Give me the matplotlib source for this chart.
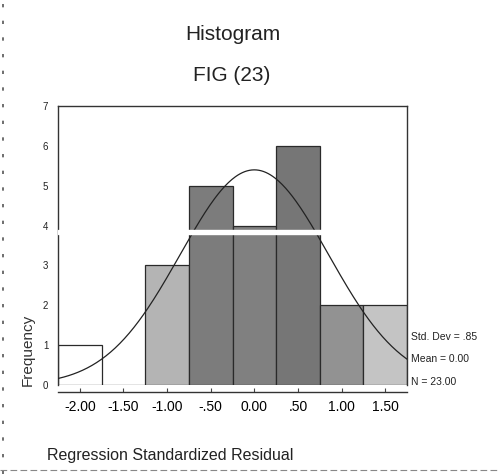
import numpy as np
import matplotlib
matplotlib.use("Agg")
import matplotlib.pyplot as plt

# histogram of regression standardized residuals (SPSS style)
bin_centers = [-2.0, -1.5, -1.0, -0.5, 0.0, 0.5, 1.0, 1.5]
counts = [1, 0, 3, 5, 4, 6, 2, 2]
tick_labels = ["-2.00", "-1.50", "-1.00", "-.50", "0.00", ".50", "1.00", "1.50"]
bar_shades = ["#ffffff", "#ffffff", "#b4b4b4", "#7c7c7c", "#808080", "#767676", "#929292", "#c4c4c4"]

std_dev = 0.85
mean = 0.0
n = 23
bin_width = 0.5

plt.rcParams['font.family'] = ['Liberation Sans', 'DejaVu Sans']

fig = plt.figure(figsize=(4.98, 4.74), dpi=100)
ax = fig.add_axes([0.1165, 0.1878, 0.7008, 0.5886])

ax.bar(bin_centers, counts, width=bin_width, color=bar_shades,
       edgecolor="#2a2a2a", linewidth=0.9, zorder=2)

# normal curve from the displayed stats
xs = np.linspace(-2.25, 1.75, 300)
ys = n * bin_width / (std_dev * np.sqrt(2 * np.pi)) * np.exp(-0.5 * ((xs - mean) / std_dev) ** 2)
ax.plot(xs, ys, color="#222222", linewidth=0.9, zorder=3)

# scan artefact: white streak across the plot
ax.axhspan(3.8, 3.88, xmax=0.97, color="white", zorder=4)

ax.set_xlim(-2.25, 1.75)
ax.set_ylim(0, 7)
ax.set_xticks(bin_centers)
ax.set_xticklabels(tick_labels, fontsize=7.5, color="#333333")
ax.set_yticks(range(8))
ax.set_yticklabels([str(i) for i in range(8)], fontsize=7, color="#222222")
ax.tick_params(axis="y", length=0, pad=7)
ax.tick_params(axis="x", direction="in", length=3, pad=6, color="#444444")
ax.spines["bottom"].set_position(("outward", 5))
for s in ax.spines.values():
    s.set_color("#333333")
    s.set_linewidth(1.0)

fig.text(0.468, 0.928, "Histogram", ha="center", va="center", fontsize=15, color="#222222")
fig.text(0.466, 0.840, "FIG (23)", ha="center", va="center", fontsize=15, color="#222222")
fig.text(0.056, 0.262, "Frequency", rotation=90, ha="center", va="center", fontsize=11, color="#333333")
fig.text(0.094, 0.04, "Regression Standardized Residual", ha="left", va="center",
         fontsize=11.5, color="#222222")

fig.text(0.825, 0.289, "Std. Dev = .85", ha="left", va="center", fontsize=7.5, color="#222222")
fig.text(0.825, 0.243, "Mean = 0.00", ha="left", va="center", fontsize=7.5, color="#222222")
fig.text(0.825, 0.194, "N = 23.00", ha="left", va="center", fontsize=7.5, color="#222222")

# dashed page edges from the scan
fig.add_artist(plt.Line2D([0.006, 0.006], [0.0, 1.0], transform=fig.transFigure,
                          color="#555555", linestyle=(0, (2, 8)), linewidth=1.2))
fig.add_artist(plt.Line2D([0.0, 1.0], [0.008, 0.008], transform=fig.transFigure,
                          color="#888888", linestyle=(0, (6, 3)), linewidth=0.8))

fig.savefig("out.png", dpi=100, facecolor="white")
